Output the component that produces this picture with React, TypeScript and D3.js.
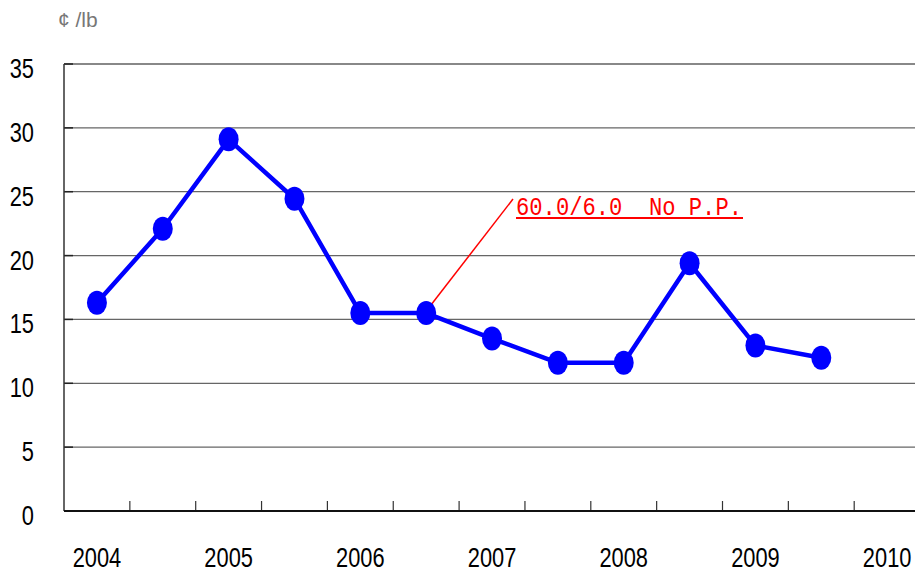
import React from "react";
import * as d3 from "d3";

const slots = [
  "2004H1","2004H2","2005H1","2005H2","2006H1","2006H2","2007H1",
  "2007H2","2008H1","2008H2","2009H1","2009H2","2010H1","2010H2",
];
const pointSlots = [
  "2004H1","2004H2","2005H1","2005H2","2006H1","2006H2",
  "2007H1","2007H2","2008H1","2008H2","2009H1","2009H2",
];
const prices = [16.3, 22.1, 29.1, 24.45, 15.5, 15.5, 13.5, 11.6, 11.6, 19.4, 12.95, 12.0];
const yearLabels = ["2004","2005","2006","2007","2008","2009","2010"];
const yTicks = [0, 5, 10, 15, 20, 25, 30, 35];
const unitLabel = "¢ /lb";
const annotationText = "60.0/6.0  No P.P.";
const annotationIndex = 5;

const W = 915;
const H = 572;
const left = 64;
const top = 64;
const bottom = 511;
const slotW = 65.85;

export default function App() {
  const x = d3
    .scaleBand<string>()
    .domain(slots)
    .range([left, left + slotW * slots.length])
    .paddingInner(0)
    .paddingOuter(0);
  const y = d3.scaleLinear().domain([0, 35]).range([bottom, top]);
  const cx = (s: string) => (x(s) as number) + x.bandwidth() / 2;

  const line = d3
    .line<number>()
    .x((_, i) => cx(pointSlots[i]))
    .y((d) => y(d));

  const numFont = "'Liberation Sans', Arial, sans-serif";
  const sx = 0.78;
  const ax = cx(pointSlots[annotationIndex]);
  const ay = y(prices[annotationIndex]);

  return (
    <svg width={W} height={H} style={{ position: "absolute", left: 0, top: 0 }}>
      <rect x={0} y={0} width={W} height={H} fill="#fff" />
      {yTicks.filter((t) => t > 0).map((t) => (
        <line
          key={"g" + t}
          x1={left}
          x2={W}
          y1={y(t)}
          y2={y(t)}
          stroke={t === 35 ? "#888" : "#666"}
          strokeWidth={t === 35 ? 2 : 1.2}
        />
      ))}
      {yTicks.filter((t) => t > 0).map((t) => (
        <line key={"yt" + t} x1={left} x2={left + 9} y1={y(t)} y2={y(t)} stroke="#222" strokeWidth={1.5} />
      ))}
      {slots.slice(1).map((s) => (
        <line
          key={"xt" + s}
          x1={x(s) as number}
          x2={x(s) as number}
          y1={bottom}
          y2={bottom - 10}
          stroke="#333"
          strokeWidth={1.2}
        />
      ))}
      <line x1={left} x2={left} y1={top} y2={bottom} stroke="#333" strokeWidth={1.5} />
      <line x1={left} x2={W} y1={bottom} y2={bottom} stroke="#111" strokeWidth={2} />
      {yTicks.map((t) => (
        <text
          key={"yl" + t}
          transform={`translate(34,${y(t) + 14}) scale(${sx},1)`}
          textAnchor="end"
          fontFamily={numFont}
          fontSize={28}
          fill="#000"
        >
          {t}
        </text>
      ))}
      {yearLabels.map((yr) => (
        <text
          key={"xl" + yr}
          transform={`translate(${cx(yr + "H1")},567) scale(${sx},1)`}
          textAnchor="middle"
          fontFamily={numFont}
          fontSize={28}
          fill="#000"
        >
          {yr}
        </text>
      ))}
      <text x={58} y={27} fontFamily="'Liberation Sans', Arial, sans-serif" fontSize={21} fill="#777">
        {unitLabel}
      </text>
      <line x1={ax + 4} y1={ay - 7} x2={513} y2={199} stroke="#ff0000" strokeWidth={1.5} />
      <path d={line(prices) || ""} fill="none" stroke="#0000ff" strokeWidth={4.5} strokeLinejoin="round" />
      {prices.map((p, i) => (
        <ellipse key={"m" + i} cx={cx(pointSlots[i])} cy={y(p)} rx={10} ry={12} fill="#0000ff" />
      ))}
      <text
        x={516}
        y={215}
        fontFamily="'Liberation Mono', 'DejaVu Sans Mono', monospace"
        fontSize={25}
        fill="#ff0000"
        textLength={226}
        lengthAdjust="spacingAndGlyphs"
        style={{ whiteSpace: "pre" }}
        xmlSpace="preserve"
      >
        {annotationText}
      </text>
      <line x1={516} x2={743} y1={218} y2={218} stroke="#ff0000" strokeWidth={2} />
    </svg>
  );
}
